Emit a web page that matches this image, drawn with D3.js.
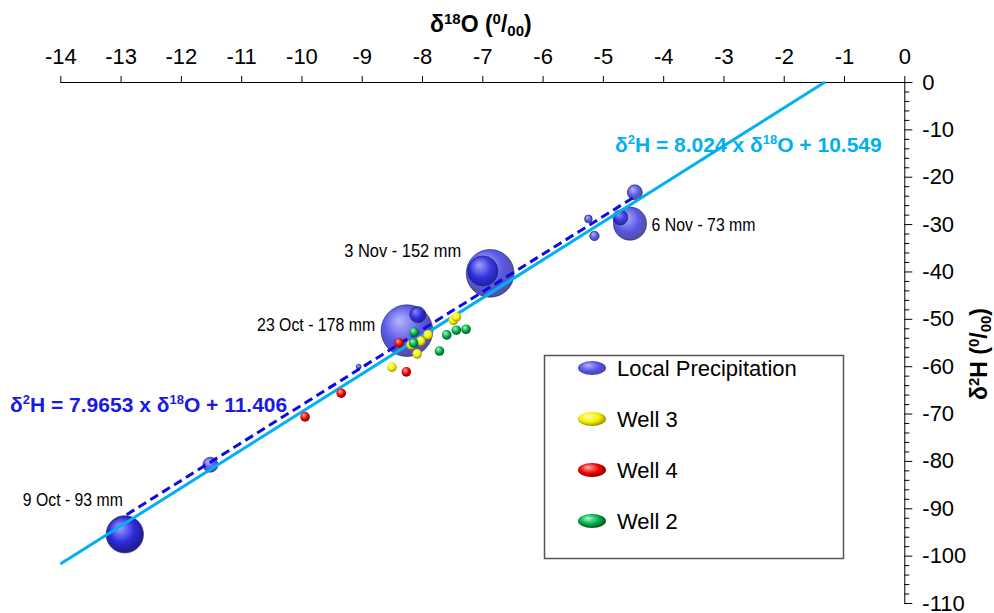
<!DOCTYPE html>
<html><head><meta charset="utf-8">
<script src="https://cdn.jsdelivr.net/npm/d3@7"></script>
<style>
body{margin:0;background:#fff}
svg{display:block}
text{font-family:"Liberation Sans",Arial,Helvetica,sans-serif}
</style>
</head><body>
<svg id="c" width="994" height="613"></svg>
<script>
// ---------- data ----------
const xTickValues = d3.range(-14, 1, 1);
const yTickValues = d3.range(-110, 1, 10);
const yMinorValues = d3.range(-110, 1, 2);

// Local precipitation samples: d18O, d2H, rainfall (mm)
const precipD18O = [-12.93, -12.93, -11.51, -9.05, -8.25, -8.07, -6.87, -6.99, -4.55, -4.71, -4.47, -5.24, -5.14];
const precipD2H  = [-95.5, -95.5, -80.8, -60.1, -52.5, -49.1, -40.4, -39.9, -29.9, -28.6, -23.3, -28.9, -32.5];
const precipMM   = [93, 85, 15, 1.5, 178, 17, 152, 60, 73, 15, 15, 4, 6];

const well3D18O = [-8.50, -8.08, -7.90, -8.18, -7.48, -7.43, -8.02];
const well3D2H  = [-60.2, -57.4, -53.4, -55.5, -50.3, -49.6, -54.7];

const well4D18O = [-9.94, -9.34, -8.26, -8.38];
const well4D2H  = [-70.7, -65.7, -61.2, -55.1];

const well2D18O = [-8.13, -8.14, -7.59, -7.43, -7.27, -7.71];
const well2D2H  = [-52.8, -55.1, -53.4, -52.4, -52.2, -56.8];

// Event labels: text, index of precipitation sample, side
const eventLabels = ["9 Oct - 93 mm", "23 Oct - 178 mm", "3 Nov - 152 mm", "6 Nov - 73 mm"];
const eventIndex  = [0, 4, 6, 8];
const eventSide   = ["upleft", "left", "upleft2", "right"];

// Regression lines
const gmwlSlope = 8.024, gmwlIntercept = 10.549;      // solid
const lmwlSlope = 7.9653, lmwlIntercept = 11.406;     // dashed
const lmwlRange = [-12.9, -4.45];

const legendLabels = ["Local Precipitation", "Well 3", "Well 4", "Well 2"];
const legendKeys = ["blue", "yellow", "red", "green"];

// ---------- drawing ----------
const svg = d3.select("#c");
const x = d3.scaleLinear().domain([-14, 0]).range([60.3, 904.3]);
const y = d3.scaleLinear().domain([-110, 0]).range([603, 82]);
const rScale = d3.scaleSqrt().domain([0, 180]).range([0, 26]);

const defs = svg.append("defs");
const grads = {
  blue:   ["#9c9cff", "#1818dc", "#0a0a78"],
  yellow: ["#ffffb0", "#f4f000", "#8c8a00"],
  red:    ["#ffb0b0", "#f00000", "#800000"],
  green:  ["#a0ffc8", "#00a848", "#004e20"]
};
Object.entries(grads).forEach(([k, c]) => {
  const g = defs.append("radialGradient").attr("id", "g-" + k)
    .attr("cx", "45%").attr("cy", "42%").attr("r", "60%").attr("fx", "35%").attr("fy", "30%");
  g.append("stop").attr("offset", "0%").attr("stop-color", c[0]);
  g.append("stop").attr("offset", "60%").attr("stop-color", c[1]);
  g.append("stop").attr("offset", "100%").attr("stop-color", c[2]);
});

// x axis (top)
const xAxis = d3.axisTop(x).tickValues(xTickValues).tickSize(6).tickPadding(12)
  .tickFormat(d3.format("d")).tickSizeOuter(0);
const gx = svg.append("g").attr("transform", "translate(0,82)").call(xAxis);
gx.select(".domain").attr("d", `M${x(-14)},0.5H${x(0) + 8}`).attr("stroke", "#000");
gx.selectAll(".tick line").attr("stroke", "#000");
gx.selectAll(".tick text").attr("font-size", 22).attr("fill", "#000")
  .attr("font-family", '"Liberation Sans",Arial,sans-serif').text(d => String(d));

// y axis (right)
const yAxis = d3.axisRight(y).tickValues(yTickValues).tickSize(8).tickPadding(10)
  .tickFormat(d => String(d)).tickSizeOuter(0);
const gy = svg.append("g").attr("transform", `translate(${x(0)},0)`).call(yAxis);
gy.select(".domain").attr("stroke", "#000");
gy.selectAll(".tick line").attr("stroke", "#000");
gy.selectAll(".tick text").attr("font-size", 22).attr("fill", "#000")
  .attr("font-family", '"Liberation Sans",Arial,sans-serif');
svg.append("g").attr("transform", `translate(${x(0)},0)`)
  .selectAll("line").data(yMinorValues.filter(v => v % 10 !== 0)).join("line")
  .attr("x1", 0).attr("x2", 5).attr("y1", d => y(d) + 0.5).attr("y2", d => y(d) + 0.5)
  .attr("stroke", "#000");

// axis titles
const tx = svg.append("text").attr("x", 430).attr("y", 32).attr("font-size", 23)
  .attr("font-weight", "bold").attr("fill", "#000");
tx.append("tspan").text("δ");
tx.append("tspan").attr("dy", -8).attr("font-size", 15).text("18");
tx.append("tspan").attr("dy", 8).text("O (");
tx.append("tspan").attr("dy", -8).attr("font-size", 15).text("0");
tx.append("tspan").attr("dy", 8).text("/");
tx.append("tspan").attr("dy", 4).attr("font-size", 15).text("00");
tx.append("tspan").attr("dy", -4).text(")");

const ty = svg.append("text").attr("transform", "translate(987,354) rotate(-90)")
  .attr("text-anchor", "middle").attr("font-size", 23).attr("font-weight", "bold").attr("fill", "#000");
ty.append("tspan").text("δ");
ty.append("tspan").attr("dy", -8).attr("font-size", 15).text("2");
ty.append("tspan").attr("dy", 8).text("H (");
ty.append("tspan").attr("dy", -8).attr("font-size", 15).text("0");
ty.append("tspan").attr("dy", 8).text("/");
ty.append("tspan").attr("dy", 4).attr("font-size", 15).text("00");
ty.append("tspan").attr("dy", -4).text(")");

// precipitation bubbles
const precip = precipD18O.map((d, i) => ({x: d, y: precipD2H[i], mm: precipMM[i], i}));
svg.append("g").selectAll("circle").data(precip.slice().sort((a, b) => b.mm - a.mm)).join("circle")
  .attr("cx", d => x(d.x)).attr("cy", d => y(d.y)).attr("r", d => Math.max(2.5, rScale(d.mm)))
  .attr("fill", "url(#g-blue)").attr("fill-opacity", 0.72)
  .attr("stroke", "#1c1c5e").attr("stroke-opacity", 0.6).attr("stroke-width", 1);

// regression lines
const x0solid = -gmwlIntercept / gmwlSlope;
svg.append("line")
  .attr("x1", x(-14)).attr("y1", y(gmwlSlope * -14 + gmwlIntercept))
  .attr("x2", x(x0solid)).attr("y2", y(0))
  .attr("stroke", "#00b0f0").attr("stroke-width", 3);
svg.append("line")
  .attr("x1", x(lmwlRange[0])).attr("y1", y(lmwlSlope * lmwlRange[0] + lmwlIntercept))
  .attr("x2", x(lmwlRange[1])).attr("y2", y(lmwlSlope * lmwlRange[1] + lmwlIntercept))
  .attr("stroke", "#0a0ae6").attr("stroke-width", 3).attr("stroke-dasharray", "9,5");

// well samples
function wells(xs, ys, key) {
  svg.append("g").selectAll("circle").data(xs.map((d, i) => ({x: d, y: ys[i]}))).join("circle")
    .attr("cx", d => x(d.x)).attr("cy", d => y(d.y)).attr("r", 4.8)
    .attr("fill", `url(#g-${key})`);
}
wells(well3D18O, well3D2H, "yellow");
wells(well4D18O, well4D2H, "red");
wells(well2D18O, well2D2H, "green");

// event labels
const labelWidths = [100, 118, 117, 104];
eventLabels.forEach((t, k) => {
  const p = precip[eventIndex[k]];
  const cx = x(p.x), cy = y(p.y), r = rScale(p.mm);
  let tx0, ty0, anchor;
  if (eventSide[k] === "right") { tx0 = cx + r + 5; ty0 = cy + 7; anchor = "start"; }
  else if (eventSide[k] === "left") { tx0 = cx - r - 6; ty0 = cy; anchor = "end"; }
  else if (eventSide[k] === "upleft2") { tx0 = cx - r - 5; ty0 = cy - 16; anchor = "end"; }
  else { tx0 = cx - 2; ty0 = cy - 28; anchor = "end"; }
  svg.append("text").attr("x", tx0).attr("y", ty0).attr("text-anchor", anchor)
    .attr("font-size", 18).attr("fill", "#000")
    .attr("textLength", labelWidths[k]).attr("lengthAdjust", "spacingAndGlyphs").text(t);
});

// equations
function equation(xp, yp, color, slope, intercept) {
  const t = svg.append("text").attr("x", xp).attr("y", yp).attr("font-size", 21)
    .attr("font-weight", "bold").attr("fill", color);
  t.append("tspan").text("δ");
  t.append("tspan").attr("dy", -8).attr("font-size", 13).text("2");
  t.append("tspan").attr("dy", 8).text(`H = ${slope} x δ`);
  t.append("tspan").attr("dy", -8).attr("font-size", 13).text("18");
  t.append("tspan").attr("dy", 8).text(`O + ${intercept}`);
}
equation(615, 152, "#00b0f0", gmwlSlope, gmwlIntercept);
equation(10, 412, "#1a1ae6", lmwlSlope, lmwlIntercept);

// legend
const lg = svg.append("g");
lg.append("rect").attr("x", 544.5).attr("y", 355.5).attr("width", 299).attr("height", 203)
  .attr("fill", "#fff").attr("stroke", "#555").attr("stroke-width", 1.5);
const ly = d3.scalePoint().domain(legendLabels).range([368, 521]);
legendLabels.forEach((lab, i) => {
  lg.append("ellipse").attr("cx", 592).attr("cy", ly(lab)).attr("rx", 14).attr("ry", 7)
    .attr("fill", `url(#g-${legendKeys[i]})`).attr("fill-opacity", i === 0 ? 0.75 : 1);
  lg.append("text").attr("x", 617).attr("y", ly(lab) + 8).attr("font-size", 22).attr("fill", "#000").text(lab);
});
</script>
</body></html>
